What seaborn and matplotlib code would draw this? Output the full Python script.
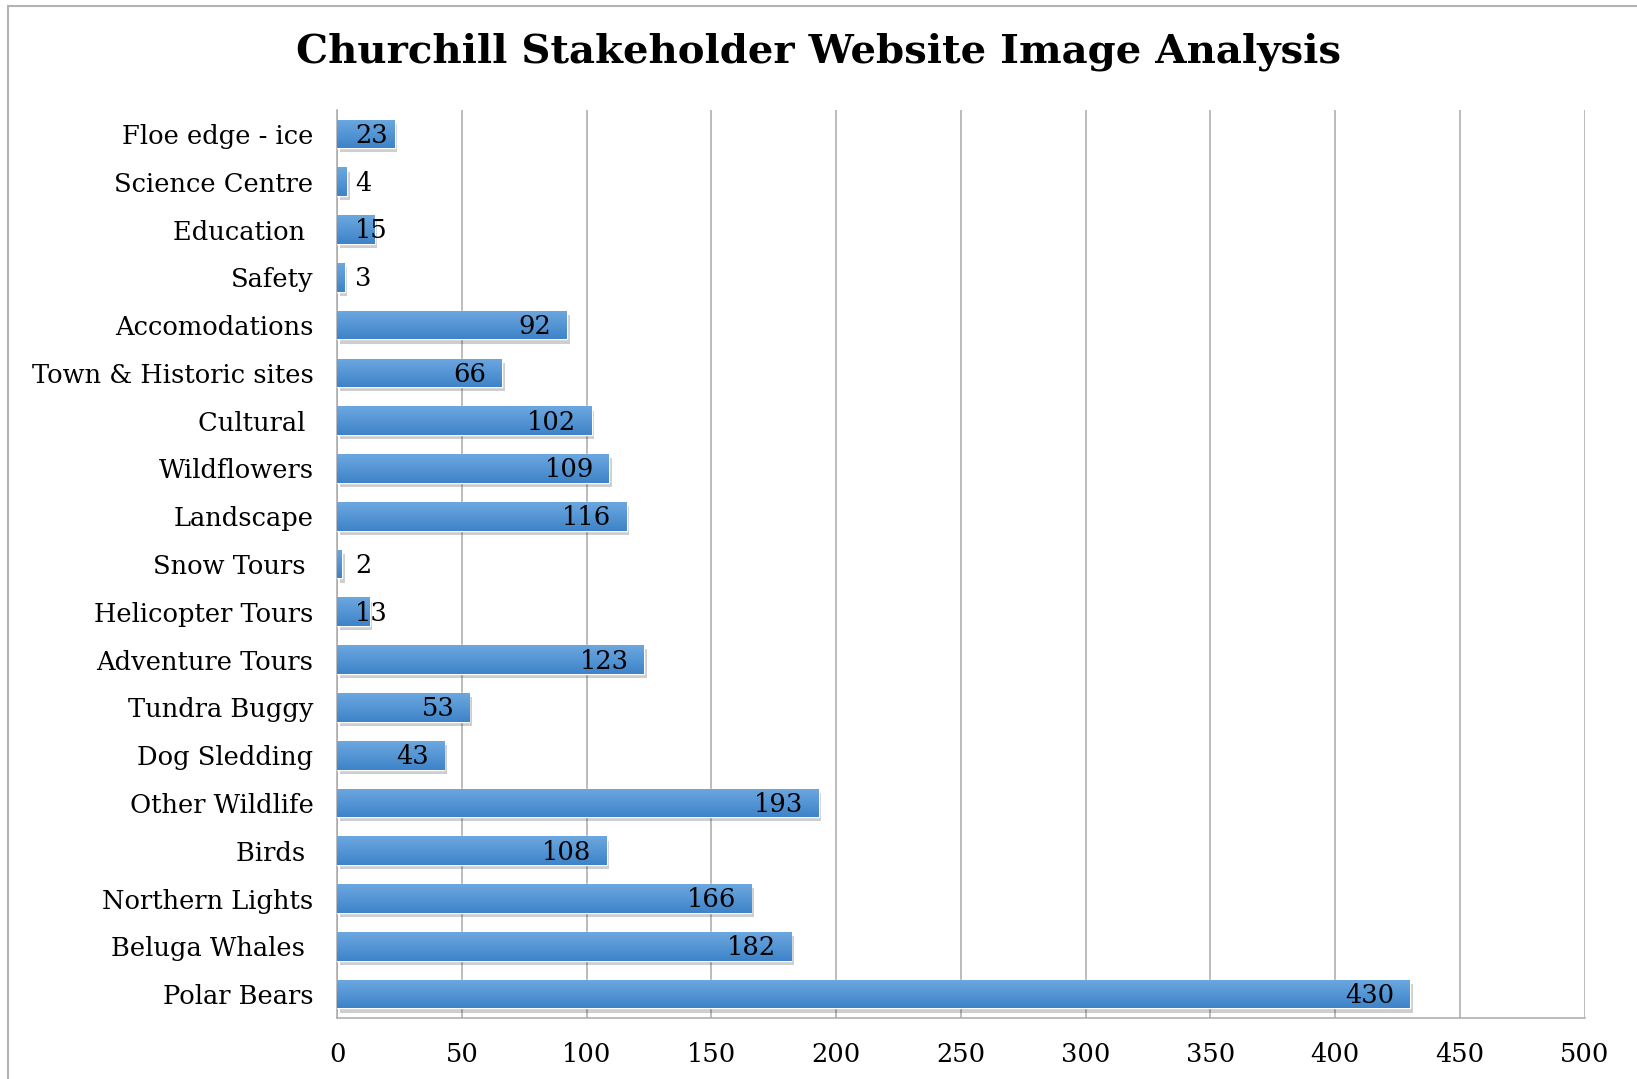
import numpy as np
import pandas as pd
import matplotlib
matplotlib.use("Agg")
import matplotlib.pyplot as plt
import matplotlib.patheffects as pe
from matplotlib.patches import Rectangle
import seaborn as sns

# data, top to bottom as in the chart
categories = ["Floe edge - ice", "Science Centre", "Education ", "Safety",
              "Accomodations", "Town & Historic sites", "Cultural ", "Wildflowers",
              "Landscape", "Snow Tours ", "Helicopter Tours", "Adventure Tours",
              "Tundra Buggy", "Dog Sledding", "Other Wildlife", "Birds ",
              "Northern Lights", "Beluga Whales ", "Polar Bears"]
counts = [23, 4, 15, 3, 92, 66, 102, 109, 116, 2, 13, 123, 53, 43, 193, 108, 166, 182, 430]
x_ticks = [0, 50, 100, 150, 200, 250, 300, 350, 400, 450, 500]

df = pd.DataFrame({"category": categories, "count": counts})

sns.set_style("white")
plt.rcParams["font.family"] = ["DejaVu Serif"]
plt.rcParams["text.color"] = "black"
plt.rcParams["xtick.labelcolor"] = "black"
plt.rcParams["ytick.labelcolor"] = "black"

fig = plt.figure(figsize=(16.37, 10.79), dpi=100)
ax = fig.add_axes([0.206, 0.0565, 0.762, 0.8415])

sns.barplot(data=df, x="count", y="category", orient="h", color="#4f8fd3",
            width=0.6, ax=ax, zorder=3)

# gradient + soft shadow on each bar
grad = np.linspace(0, 1, 64).reshape(-1, 1)
cmap = matplotlib.colors.LinearSegmentedColormap.from_list("bar", ["#6ca8e0", "#3e83c9"])
for p in ax.patches:
    p.set_path_effects([pe.SimplePatchShadow(offset=(2, -3), alpha=0.22, shadow_rgbFace="#222222"),
                        pe.Normal()])
    x0, y0 = p.get_x(), p.get_y()
    w, h = p.get_width(), p.get_height()
    im = ax.imshow(grad, cmap=cmap, extent=[x0, x0 + w, y0 + h, y0],
                   aspect="auto", zorder=4, origin="upper")
    im.set_clip_path(p)

for i, v in enumerate(counts):
    if v < 30:
        ax.annotate(str(v), (0, i), xytext=(13, -1), textcoords="offset points",
                    ha="left", va="center", fontsize=18.5, zorder=6)
    else:
        ax.annotate(str(v), (v, i), xytext=(-11, -1), textcoords="offset points",
                    ha="right", va="center", fontsize=18.5, zorder=6)

ax.set_xlim(0, 500)
ax.set_ylim(len(categories) - 0.5, -0.5)
ax.set_xticks(x_ticks)
ax.set_xlabel("")
ax.set_ylabel("")
ax.xaxis.grid(True, color="#a9a9a9", linewidth=1.1, zorder=0)
ax.set_axisbelow(True)
ax.tick_params(axis="x", labelsize=18.5, length=5, color="#a9a9a9", pad=12)
ax.tick_params(axis="y", labelsize=18.5, length=0, pad=17)

for side in ["top", "right"]:
    ax.spines[side].set_visible(False)
for side in ["left", "bottom"]:
    ax.spines[side].set_color("#a9a9a9")
    ax.spines[side].set_linewidth(1.1)

fig.suptitle("Churchill Stakeholder Website Image Analysis", fontsize=29,
             fontweight="bold", y=1 - 52 / 1079, va="center", color="black")

# outer frame of the chart object
fig.add_artist(Rectangle((8 / 1637, -0.1), 1.2, 1.1 - 6 / 1079, transform=fig.transFigure,
                         fill=False, edgecolor="#b3b3b3", linewidth=1.5))

fig.savefig("out.png", dpi=100)
